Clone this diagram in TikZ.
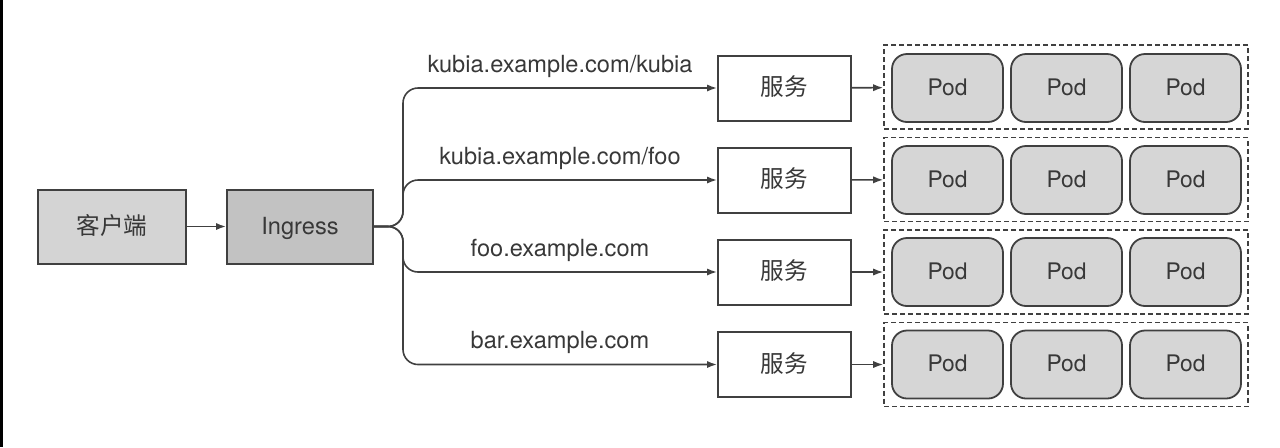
\documentclass[tikz,border=0pt]{standalone}
\usepackage{fontspec}
\setmainfont{TeX Gyre Heros}
\newfontfamily\cjk{Noto Sans CJK SC}
\usepackage{xcolor}
\usetikzlibrary{arrows.meta}
\definecolor{BoxLine}{rgb}{0.25,0.25,0.25}
\definecolor{ClientGray}{rgb}{0.83,0.83,0.83}
\definecolor{IngressGray}{rgb}{0.76,0.76,0.76}
\definecolor{PodGray}{rgb}{0.84,0.84,0.84}
\definecolor{TextGray}{rgb}{0.22,0.22,0.22}

\begin{document}
\begin{tikzpicture}[x=0.5pt, y=-0.5pt,
		>={Latex[length=5pt,width=3.6pt]},
		every node/.style={font=\fontsize{11.8}{14}\selectfont, text=TextGray},
		box/.style={draw=BoxLine, line width=1pt, minimum width=66.5pt, minimum height=32.5pt, inner sep=0pt, text height=0.76em, text depth=0pt},
		podbox/.style={draw=BoxLine, fill=PodGray, line width=0.9pt, rounded corners=7.5pt, minimum width=55.5pt, minimum height=34pt, inner sep=0pt, font=\fontsize{11.4}{14}\selectfont, text height=0.74em, text depth=0pt},
		group/.style={draw=BoxLine, line width=0.8pt, dash pattern=on 2.5pt off 1.5pt, minimum width=182pt, minimum height=42pt, inner sep=0pt},
		route/.style={->, line width=0.8pt, draw=BoxLine, rounded corners=7.5pt}]
		
		\useasboundingbox (0,0) rectangle (1280,447);
		\fill[black] (0,0) rectangle (3,447); % scan edge
		
		% client and ingress
		\node[box, fill=ClientGray, minimum width=74pt, minimum height=37pt] (client) at (112,226.5) {\cjk 客户端};
		\node[box, fill=IngressGray, minimum width=73pt, minimum height=37pt] (ingress) at (300,226.5) {Ingress};
		\draw[route] (client) -- (ingress);
		
		% services
		\node[box, fill=white] (svc1) at (784.5,88) {\cjk 服务};
		\node[box, fill=white] (svc2) at (784.5,180) {\cjk 服务};
		\node[box, fill=white] (svc3) at (784.5,272) {\cjk 服务};
		\node[box, fill=white] (svc4) at (784.5,364.5) {\cjk 服务};
		
		% pod groups
		\node[group] (grp1) at (1066,87) {};
		\node[group] (grp2) at (1066,179.5) {};
		\node[group] (grp3) at (1066,272) {};
		\node[group] (grp4) at (1066,364.5) {};
		
		% pods
		\node[podbox] (pod11) at (947.5,88) {Pod};
		\node[podbox] (pod12) at (1066.5,88) {Pod};
		\node[podbox] (pod13) at (1185.5,88) {Pod};
		\node[podbox] (pod21) at (947.5,180) {Pod};
		\node[podbox] (pod22) at (1066.5,180) {Pod};
		\node[podbox] (pod23) at (1185.5,180) {Pod};
		\node[podbox] (pod31) at (947.5,272) {Pod};
		\node[podbox] (pod32) at (1066.5,272) {Pod};
		\node[podbox] (pod33) at (1185.5,272) {Pod};
		\node[podbox] (pod41) at (947.5,364.5) {Pod};
		\node[podbox] (pod42) at (1066.5,364.5) {Pod};
		\node[podbox] (pod43) at (1185.5,364.5) {Pod};
		
		% ingress rules
		\draw[route] (ingress.east) -- (403,226.5) |- node[pos=0.75, above=1.5pt] {kubia.example.com/kubia} (svc1.west);
		\draw[route] (ingress.east) -- (403,226.5) |- node[pos=0.75, above=1.5pt] {kubia.example.com/foo} (svc2.west);
		\draw[route] (ingress.east) -- (403,226.5) |- node[pos=0.75, above=1.5pt] {foo.example.com} (svc3.west);
		\draw[route] (ingress.east) -- (403,226.5) |- node[pos=0.75, above=1.5pt] {bar.example.com} (svc4.west);
		
		% services to pods
		\draw[route] (svc1) -- (grp1);
		\draw[route] (svc2) -- (grp2);
		\draw[route] (svc3) -- (grp3);
		\draw[route] (svc4) -- (grp4);
		
	\end{tikzpicture}
\end{document}
